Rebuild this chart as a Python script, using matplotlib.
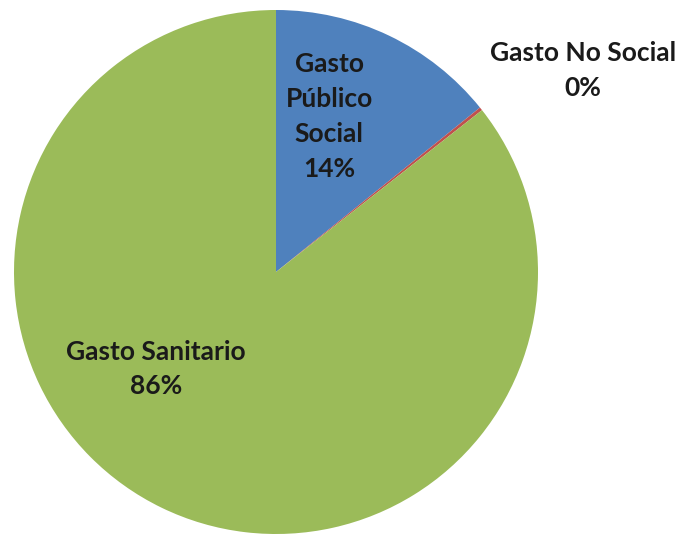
import matplotlib
matplotlib.use("Agg")
import matplotlib.pyplot as plt

categories = ["Gasto\nPúblico\nSocial", "Gasto No Social", "Gasto Sanitario"]
values = [14.2, 0.2, 85.6]
pct_labels = ["14%", "0%", "86%"]
colors = ["#4F81BD", "#C0504D", "#9BBB59"]

W, H = 678, 535
cx, cy, r = 276, 272, 262

fig = plt.figure(figsize=(W / 100, H / 100), dpi=100)
ax = fig.add_axes([0, 0, 1, 1])
ax.pie(values, colors=colors, startangle=90, counterclock=False,
       radius=1, center=(0, 0), wedgeprops=dict(linewidth=0))
ax.set_xlim(-cx / r, (W - cx) / r)
ax.set_ylim(-(H - cy) / r, cy / r)
ax.set_aspect("auto")
ax.axis("off")

def px(x, y):
    return ((x - cx) / r, (cy - y) / r)

label_pos = [(329, 117), (583, 71), (156, 369)]
for cat, pct, (x, y) in zip(categories, pct_labels, label_pos):
    tx, ty = px(x, y)
    ax.text(tx, ty, f"{cat}\n{pct}", ha="center", va="center",
            fontsize=19, fontweight="bold", family="Lato",
            color="#1a1a1a", linespacing=1.55)

fig.savefig("out.png", dpi=100)
